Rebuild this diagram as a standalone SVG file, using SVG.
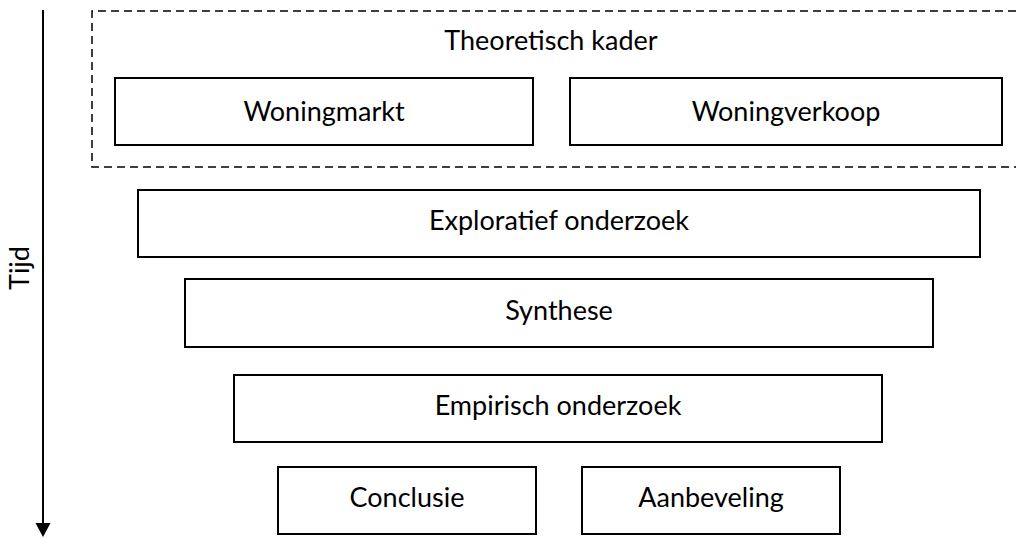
<svg xmlns="http://www.w3.org/2000/svg" width="1016" height="538" viewBox="0 0 1016 538">
<defs>
<style>
.box{fill:#fff;stroke:#000;stroke-width:2}
.lbl{font-family:Lato,"Liberation Sans",Arial,sans-serif;font-size:27px;fill:#000;text-anchor:middle}
.frame{fill:none;stroke:#000;stroke-width:1.5;stroke-dasharray:8 5}
</style>
</defs>
<rect width="1016" height="538" fill="#fff"/>
<g id="connectors">
<line x1="43" y1="10" x2="43" y2="523" stroke="#000" stroke-width="2"/>
<path d="M35.5,523 L50.5,523 L43,537 Z" fill="#000"/>
</g>
<g id="tijd">
<text class="lbl" transform="translate(29,268) rotate(-90)">Tijd</text>
</g>
<g id="theoretisch-kader">
<path class="frame" d="M1016,11 L92,11 L92,167 L1016,167"/>
<text class="lbl" x="551" y="50">Theoretisch kader</text>
</g>
<g id="woningmarkt">
<rect class="box" x="115" y="78" width="418" height="67"/>
<text class="lbl" x="324" y="121">Woningmarkt</text>
</g>
<g id="woningverkoop">
<rect class="box" x="570" y="78" width="432" height="67"/>
<text class="lbl" x="786" y="121">Woningverkoop</text>
</g>
<g id="exploratief">
<rect class="box" x="138" y="190" width="842" height="67"/>
<text class="lbl" x="559" y="230">Exploratief onderzoek</text>
</g>
<g id="synthese">
<rect class="box" x="185" y="279" width="748" height="68"/>
<text class="lbl" x="559" y="320">Synthese</text>
</g>
<g id="empirisch">
<rect class="box" x="234" y="375" width="648" height="67"/>
<text class="lbl" x="558" y="415">Empirisch onderzoek</text>
</g>
<g id="conclusie">
<rect class="box" x="278" y="467" width="258" height="67"/>
<text class="lbl" x="407" y="507">Conclusie</text>
</g>
<g id="aanbeveling">
<rect class="box" x="582" y="467" width="258" height="67"/>
<text class="lbl" x="711" y="507">Aanbeveling</text>
</g>
</svg>
